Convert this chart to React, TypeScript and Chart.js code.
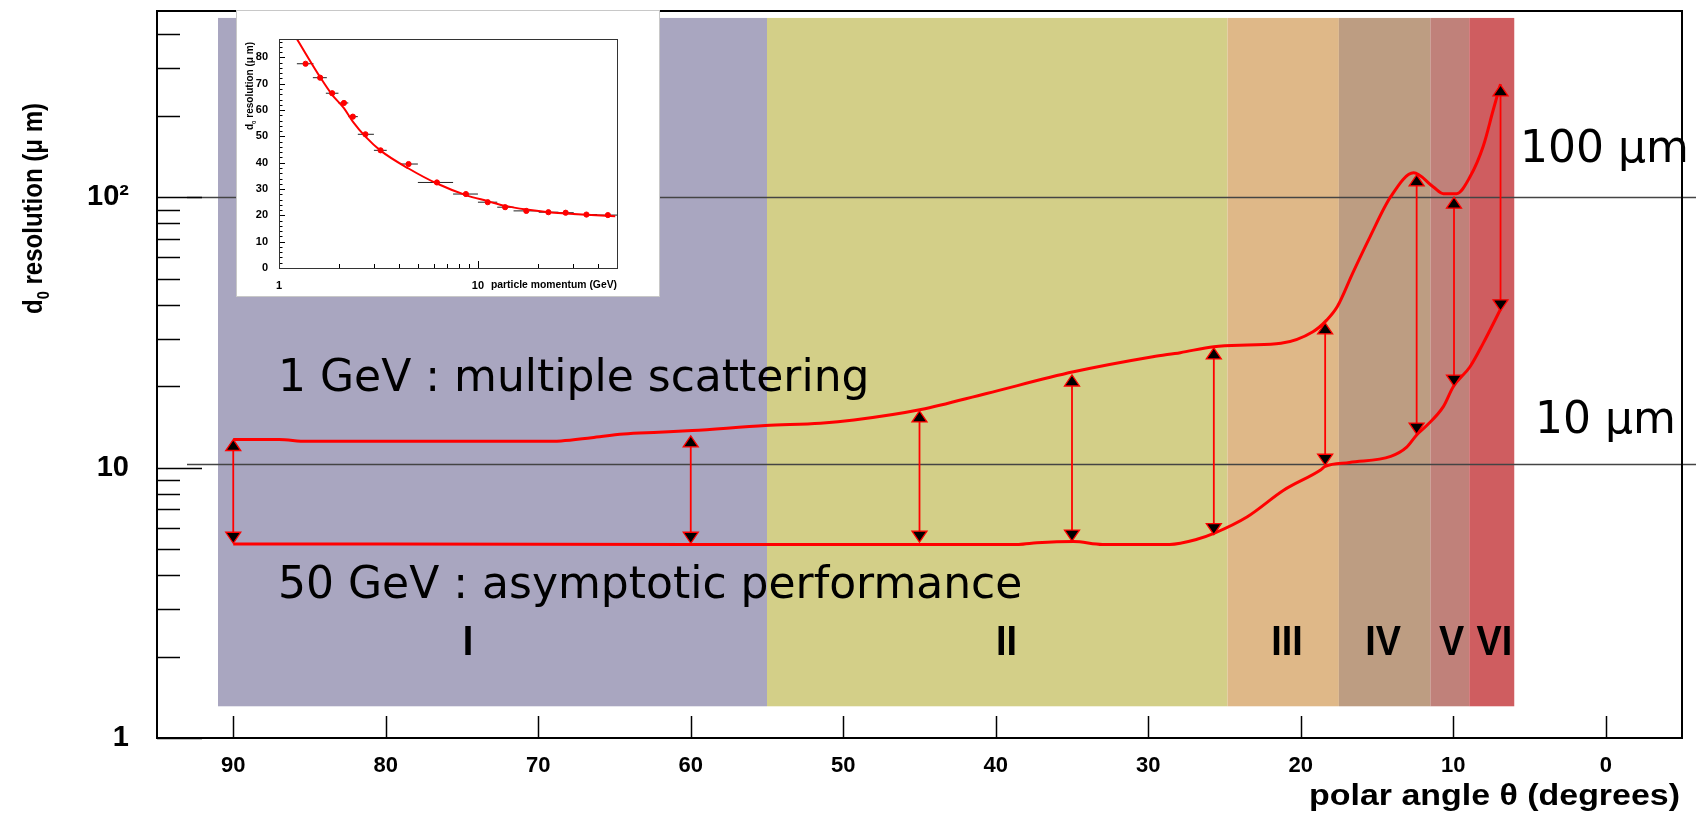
import React, { useEffect, useRef } from 'react';
import { Chart, registerables } from 'chart.js';

Chart.register(...registerables);

// ---------------- main chart data ----------------
const xTickValues = [90, 80, 70, 60, 50, 40, 30, 20, 10, 0];
const yTickValues = [1, 10, 100];
const yTickLabels = ['1', '10', '10²'];
const yMinorTickValues = [2, 3, 4, 5, 6, 7, 8, 9, 20, 30, 40, 50, 60, 70, 80, 90, 200, 300, 400];

// 1 GeV curve (polar angle in degrees, d0 resolution in micrometres)
const upperTheta = [90, 87, 85.2, 70, 68.5, 66.5, 64.4, 62.1, 59.9, 55.1, 51.5, 49.3, 44.9, 40.6, 34.9, 29.7, 27.9, 25.7, 23.5, 21.3, 19.2, 18.3, 17.6, 16.6, 15.45, 14.1, 12.6, 11.3, 10.65, 9.78, 8.9, 8.04, 7.38, 6.9];
const upperRes = [12.7, 12.7, 12.5, 12.5, 12.55, 12.9, 13.3, 13.5, 13.7, 14.3, 14.6, 15.0, 16.4, 18.8, 22.6, 25.7, 26.6, 28.0, 28.4, 28.8, 31.8, 35.1, 39.4, 52.3, 71.5, 100.4, 123, 109, 103, 103, 119, 154, 210, 262];

// 50 GeV curve
const lowerTheta = [90, 60, 40, 38.5, 37.3, 34.9, 33.0, 28.6, 26.8, 25.7, 23.5, 21.1, 18.7, 18.4, 16.8, 14.1, 13.05, 12.4, 11.74, 10.65, 10.0, 8.9, 8.04, 6.9];
const lowerRes = [5.22, 5.2, 5.2, 5.2, 5.27, 5.33, 5.2, 5.2, 5.43, 5.71, 6.58, 8.26, 9.8, 10.1, 10.45, 11.0, 11.9, 13.2, 14.3, 16.8, 19.9, 23.6, 28.8, 38.5];

// double arrows between the two curves
const arrowTheta = [90, 60, 45, 35, 25.7, 18.4, 12.4, 9.95, 6.9];
const arrowTop = [12.7, 13.1, 16.2, 22.0, 27.7, 34.3, 121, 100, 260];
const arrowBottom = [5.25, 5.25, 5.3, 5.35, 5.65, 10.2, 13.3, 20.0, 38.0];

// detector regions
const regionNames = ['I', 'II', 'III', 'IV', 'V', 'VI'];
const regionFrom = [91, 55, 24.8, 17.5, 11.5, 8.95];
const regionTo = [55, 24.8, 17.5, 11.5, 8.95, 6];
const regionLabelTheta = [74.6, 39.3, 20.9, 14.6, 10.1, 7.3];
const regionColors = ['#A9A6C0', '#D3CF88', '#DFB888', '#BD9D82', '#C0817A', '#CF5D60'];
const regionLow = 1.31;
const regionHigh = 460;
const regionLabelLevel = 2.03;

const referenceLevels = [10.3, 100];

// ---------------- inset data ----------------
const insetMomentum = [1.36, 1.61, 1.85, 2.12, 2.35, 2.72, 3.24, 4.48, 6.22, 8.7, 11.2, 13.7, 17.5, 22.6, 27.6, 35.1, 45.0];
const insetRes = [77.6, 72.3, 66.4, 62.7, 57.5, 50.8, 44.7, 39.5, 32.5, 28.1, 25.0, 23.1, 21.7, 21.2, 21.0, 20.3, 20.1];
const insetBinLow = [1.23, 1.48, 1.72, 1.99, 2.23, 2.49, 3.0, 4.06, 4.99, 7.5, 10, 12.5, 15.1, 20.2, 25.4, 30.3, 39.8];
const insetBinHigh = [1.49, 1.74, 1.99, 2.23, 2.49, 3.0, 3.48, 4.99, 7.5, 10, 12.5, 15.1, 20.2, 25.4, 30.3, 39.8, 50];
const fitMomentum = [1.23, 1.36, 1.61, 1.85, 2.12, 2.35, 2.72, 3.24, 4.48, 6.22, 8.7, 11.2, 13.7, 17.5, 22.6, 27.6, 35.1, 49];
const fitRes = [87, 81.5, 72.5, 65.8, 60.7, 55.6, 49.9, 44.6, 37.8, 32.1, 27.7, 25.4, 23.6, 22.2, 21.2, 20.7, 20.2, 19.7];
const insetXTickValues = [1, 10];
const insetXMinorTicks = [2, 3, 4, 5, 6, 7, 8, 9, 20, 30, 40, 50];
const insetYTickValues = [0, 10, 20, 30, 40, 50, 60, 70, 80];
const insetYMinorTicks = [2, 4, 6, 8, 12, 14, 16, 18, 22, 24, 26, 28, 32, 34, 36, 38, 42, 44, 46, 48, 52, 54, 56, 58, 62, 64, 66, 68, 72, 74, 76, 78, 82, 84, 86];

const ROOT_FONT = "'Liberation Sans', Arial, Helvetica, sans-serif";
const NOTE_FONT = "'DejaVu Sans', Verdana, sans-serif";

function drawYTitle(ctx: CanvasRenderingContext2D, baselineX: number, bottomY: number, size: number, targetLen: number) {
  const big = `bold ${size}px ${ROOT_FONT}`;
  const small = `bold ${Math.round(size * 0.6)}px ${ROOT_FONT}`;
  ctx.font = big;
  const w1 = ctx.measureText('d').width;
  const w3 = ctx.measureText(' resolution (μ m)').width;
  ctx.font = small;
  const w2 = ctx.measureText('0').width;
  const s = targetLen / (w1 + w2 + w3);
  ctx.save();
  ctx.translate(baselineX, bottomY);
  ctx.rotate(-Math.PI / 2);
  ctx.scale(s, 1);
  ctx.fillStyle = '#000';
  ctx.textAlign = 'left';
  ctx.textBaseline = 'alphabetic';
  ctx.font = big;
  ctx.fillText('d', 0, 0);
  ctx.font = small;
  ctx.fillText('0', w1, size * 0.25);
  ctx.font = big;
  ctx.fillText(' resolution (μ m)', w1 + w2, 0);
  ctx.restore();
}

function drawFitText(ctx: CanvasRenderingContext2D, text: string, font: string, rightX: number, baseY: number, targetW: number) {
  ctx.save();
  ctx.font = font;
  const w = ctx.measureText(text).width;
  const s = targetW / w;
  ctx.translate(rightX - targetW, baseY);
  ctx.scale(s, 1);
  ctx.fillStyle = '#000';
  ctx.textAlign = 'left';
  ctx.textBaseline = 'alphabetic';
  ctx.fillText(text, 0, 0);
  ctx.restore();
}

function line(ctx: CanvasRenderingContext2D, x1: number, y1: number, x2: number, y2: number) {
  ctx.beginPath();
  ctx.moveTo(x1, y1);
  ctx.lineTo(x2, y2);
  ctx.stroke();
}

function noPad(s: any) {
  s.paddingTop = 0;
  s.paddingBottom = 0;
  s.paddingLeft = 0;
  s.paddingRight = 0;
}

const mainBackground = {
  id: 'mainBackground',
  beforeDatasetsDraw(chart: any) {
    const { ctx, scales: { x, y } } = chart;
    ctx.save();
    // regions
    for (let i = 0; i < regionNames.length; i++) {
      const x1 = x.getPixelForValue(regionFrom[i]);
      const x2 = x.getPixelForValue(regionTo[i]);
      const y1 = y.getPixelForValue(regionHigh);
      const y2 = y.getPixelForValue(regionLow);
      ctx.fillStyle = regionColors[i];
      ctx.fillRect(x1, y1, x2 - x1, y2 - y1);
    }
    // region labels
    ctx.fillStyle = '#000';
    ctx.textAlign = 'center';
    ctx.textBaseline = 'alphabetic';
    ctx.font = `bold 42px ${ROOT_FONT}`;
    for (let i = 0; i < regionNames.length; i++) {
      const px = x.getPixelForValue(regionLabelTheta[i]);
      const py = y.getPixelForValue(regionLabelLevel);
      ctx.save();
      ctx.translate(px, py);
      ctx.scale(0.9, 1);
      ctx.fillText(regionNames[i], 0, 0);
      ctx.restore();
    }
    // reference lines
    ctx.strokeStyle = '#444';
    ctx.lineWidth = 1.5;
    for (const lv of referenceLevels) {
      const py = Math.round(y.getPixelForValue(lv)) + 0.5;
      line(ctx, 187, py, chart.width, py);
    }
    // annotations
    ctx.font = `44px ${NOTE_FONT}`;
    ctx.textAlign = 'left';
    ctx.fillStyle = '#000';
    ctx.fillText('1 GeV : multiple scattering', 278, 391);
    ctx.fillText('50 GeV : asymptotic performance', 278, 598);
    ctx.fillText('100 μm', 1520, 162);
    ctx.fillText('10 μm', 1535, 433);
    ctx.restore();
  },
  afterDatasetsDraw(chart: any) {
    const { ctx, chartArea: a, scales: { x, y } } = chart;
    ctx.save();
    // arrows
    for (let i = 0; i < arrowTheta.length; i++) {
      const px = x.getPixelForValue(arrowTheta[i]);
      const pt = y.getPixelForValue(arrowTop[i]);
      const pb = y.getPixelForValue(arrowBottom[i]);
      ctx.strokeStyle = '#ff0000';
      ctx.lineWidth = 1.8;
      line(ctx, px, pt + 6, px, pb - 6);
      ctx.fillStyle = '#000';
      ctx.lineWidth = 1.3;
      ctx.beginPath();
      ctx.moveTo(px, pt);
      ctx.lineTo(px - 7.5, pt + 11);
      ctx.lineTo(px + 7.5, pt + 11);
      ctx.closePath();
      ctx.fill();
      ctx.stroke();
      ctx.beginPath();
      ctx.moveTo(px, pb);
      ctx.lineTo(px - 7.5, pb - 11);
      ctx.lineTo(px + 7.5, pb - 11);
      ctx.closePath();
      ctx.fill();
      ctx.stroke();
    }
    // ticks
    ctx.strokeStyle = '#000';
    ctx.lineWidth = 1.5;
    for (const v of xTickValues) {
      const px = Math.round(x.getPixelForValue(v)) + 0.5;
      line(ctx, px, a.bottom, px, a.bottom - 22);
    }
    for (const v of yTickValues) {
      const py = Math.round(y.getPixelForValue(v)) + 0.5;
      line(ctx, a.left, py, a.left + 45, py);
    }
    for (const v of yMinorTickValues) {
      const py = Math.round(y.getPixelForValue(v)) + 0.5;
      line(ctx, a.left, py, a.left + 23, py);
    }
    // frame
    ctx.lineWidth = 2;
    ctx.strokeRect(a.left, a.top, a.right - a.left, a.bottom - a.top);
    // axis titles
    drawYTitle(ctx, 42, 314, 28, 211);
    drawFitText(ctx, 'polar angle θ (degrees)', `bold 30px ${ROOT_FONT}`, 1680, 805, 371);
    ctx.restore();
  },
};

const insetDecor = {
  id: 'insetDecor',
  afterDatasetsDraw(chart: any) {
    const { ctx, chartArea: a, scales: { x, y } } = chart;
    ctx.save();
    ctx.strokeStyle = '#000';
    ctx.lineWidth = 1;
    for (const v of insetXTickValues) {
      const px = Math.round(x.getPixelForValue(v)) + 0.5;
      line(ctx, px, a.bottom, px, a.bottom - 7);
    }
    for (const v of insetXMinorTicks) {
      const px = Math.round(x.getPixelForValue(v)) + 0.5;
      line(ctx, px, a.bottom, px, a.bottom - 4);
    }
    for (const v of insetYTickValues) {
      const py = Math.round(y.getPixelForValue(v)) + 0.5;
      line(ctx, a.left, py, a.left + 6, py);
    }
    for (const v of insetYMinorTicks) {
      const py = Math.round(y.getPixelForValue(v)) + 0.5;
      line(ctx, a.left, py, a.left + 3.5, py);
    }
    ctx.strokeStyle = '#333';
    ctx.strokeRect(Math.round(a.left) + 0.5, Math.round(a.top) + 0.5, Math.round(a.right - a.left), Math.round(a.bottom - a.top));
    // outer border of inset
    ctx.strokeStyle = '#c8c8c8';
    ctx.strokeRect(0.5, 0.5, chart.width - 1, chart.height - 1);
    drawYTitle(ctx, 17, 120, 10, 88);
    drawFitText(ctx, 'particle momentum (GeV)', `bold 10px ${ROOT_FONT}`, 381, 278, 126);
    ctx.restore();
  },
};

export default function App() {
  const mainRef = useRef<HTMLCanvasElement>(null);
  const insetRef = useRef<HTMLCanvasElement>(null);

  useEffect(() => {
    const main = new Chart(mainRef.current as HTMLCanvasElement, {
      type: 'line',
      data: {
        datasets: [
          {
            data: upperTheta.map((t, i) => ({ x: t, y: upperRes[i] })),
            borderColor: '#ff0000',
            borderWidth: 3,
            pointRadius: 0,
            fill: false,
            cubicInterpolationMode: 'monotone',
          },
          {
            data: lowerTheta.map((t, i) => ({ x: t, y: lowerRes[i] })),
            borderColor: '#ff0000',
            borderWidth: 3,
            pointRadius: 0,
            fill: false,
            cubicInterpolationMode: 'monotone',
          },
        ],
      },
      options: {
        responsive: false,
        animation: false,
        devicePixelRatio: 1,
        layout: { padding: { top: 11, right: 14, left: 0, bottom: 0 } },
        events: [],
        scales: {
          x: {
            type: 'linear',
            reverse: true,
            min: -5,
            max: 95,
            grid: { display: false },
            border: { display: false },
            afterBuildTicks: (s: any) => { s.ticks = xTickValues.map((v) => ({ value: v })); },
            afterFit: (s: any) => { s.height = 76; noPad(s); },
            ticks: {
              color: '#000',
              padding: 7,
              maxRotation: 0,
              autoSkip: false,
              font: { family: ROOT_FONT, weight: 'bold', size: 22 },
            },
          },
          y: {
            type: 'logarithmic',
            min: 1,
            max: 488,
            grid: { display: false },
            border: { display: false },
            afterBuildTicks: (s: any) => { s.ticks = yTickValues.map((v) => ({ value: v })); },
            afterFit: (s: any) => { s.width = 157; noPad(s); },
            ticks: {
              color: '#000',
              padding: 20,
              autoSkip: false,
              font: { family: ROOT_FONT, weight: 'bold', size: 29 },
              callback: (v: any) => {
                const k = yTickValues.indexOf(Number(v));
                return k >= 0 ? yTickLabels[k] : '';
              },
            },
          },
        },
        plugins: { legend: { display: false }, tooltip: { enabled: false } },
      },
      plugins: [mainBackground],
    } as any);

    const insetDatasets: any[] = [
      {
        data: insetMomentum.map((p, i) => ({ x: p, y: insetRes[i] })),
        showLine: false,
        pointRadius: 2.6,
        pointBackgroundColor: '#ff0000',
        pointBorderColor: '#ff0000',
        borderColor: '#ff0000',
      },
      {
        data: fitMomentum.map((p, i) => ({ x: p, y: fitRes[i] })),
        borderColor: '#ff0000',
        borderWidth: 2,
        pointRadius: 0,
        cubicInterpolationMode: 'monotone',
      },
    ];
    insetMomentum.forEach((_, i) => {
      insetDatasets.push({
        data: [{ x: insetBinLow[i], y: insetRes[i] }, { x: insetBinHigh[i], y: insetRes[i] }],
        borderColor: '#222',
        borderWidth: 1,
        pointRadius: 0,
      });
    });

    const inset = new Chart(insetRef.current as HTMLCanvasElement, {
      type: 'line',
      data: { datasets: insetDatasets },
      options: {
        responsive: false,
        animation: false,
        devicePixelRatio: 1,
        events: [],
        layout: { padding: { top: 29, right: 43, left: 0, bottom: 0 } },
        scales: {
          x: {
            type: 'logarithmic',
            min: 1,
            max: 50,
            grid: { display: false },
            border: { display: false },
            afterBuildTicks: (s: any) => { s.ticks = insetXTickValues.map((v) => ({ value: v })); },
            afterFit: (s: any) => { s.height = 29; noPad(s); },
            ticks: {
              color: '#000',
              padding: 3,
              maxRotation: 0,
              autoSkip: false,
              font: { family: ROOT_FONT, weight: 'bold', size: 11 },
              callback: (v: any) => String(v),
            },
          },
          y: {
            type: 'linear',
            min: 0,
            max: 87,
            grid: { display: false },
            border: { display: false },
            afterBuildTicks: (s: any) => { s.ticks = insetYTickValues.map((v) => ({ value: v })); },
            afterFit: (s: any) => { s.width = 43; noPad(s); },
            ticks: {
              color: '#000',
              padding: 3,
              autoSkip: false,
              font: { family: ROOT_FONT, weight: 'bold', size: 11 },
            },
          },
        },
        plugins: { legend: { display: false }, tooltip: { enabled: false } },
      },
      plugins: [insetDecor],
    } as any);

    return () => {
      main.destroy();
      inset.destroy();
    };
  }, []);

  return (
    <div style={{ position: 'absolute', left: 0, top: 0, width: 1696, height: 814, background: '#fff', overflow: 'hidden' }}>
      <canvas
        ref={mainRef}
        width={1696}
        height={814}
        style={{ position: 'absolute', left: 0, top: 0, width: 1696, height: 814 }}
      />
      <canvas
        ref={insetRef}
        width={424}
        height={287}
        style={{ position: 'absolute', left: 236, top: 10, width: 424, height: 287, background: '#fff' }}
      />
    </div>
  );
}
